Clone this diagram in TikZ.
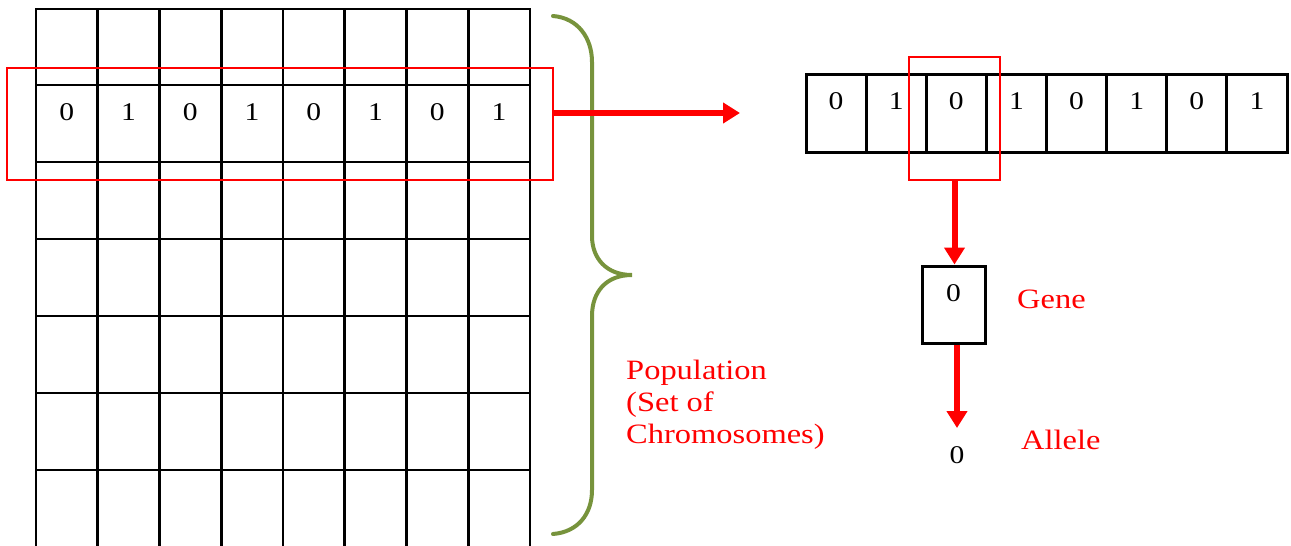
\documentclass[tikz,border=0pt]{standalone}
\usepackage{fontspec}
\setmainfont{Liberation Serif}[FakeStretch=1.16]
\usetikzlibrary{arrows.meta}
\definecolor{bracegreen}{RGB}{119,147,60}
\begin{document}
\begin{tikzpicture}[x=1pt,y=-1pt,
  gridline/.style={line width=2.9pt, line cap=rect},
  chrbox/.style={draw, line width=3pt, minimum width=60.125pt, minimum height=78pt, inner sep=0pt},
  digit/.style={font=\fontsize{25.5}{25}\selectfont, inner sep=0pt},
  redlabel/.style={text=red, font=\fontsize{28}{32}\selectfont, inner sep=0pt, anchor=west, align=left},
  selbox/.style={draw=red, line width=2pt, inner sep=0pt},
  bigarrow/.style={draw=red, line width=6pt, -{Triangle[length=17pt,width=20pt]}},
  bracestyle/.style={draw=bracegreen, line width=4pt, line cap=round}
]
\useasboundingbox (0,0) rectangle (1291,546);
% population grid
\foreach \i in {0,...,8} \draw[gridline] ({36+61.75*\i},9) -- ({36+61.75*\i},552);
\foreach \y in {9,85,162,239,316,393,470} \draw[gridline] (36,\y) -- (530,\y);
\foreach \d [count=\i] in {0,1,0,1,0,1,0,1}
  \node[digit] (p\i) at ({36+61.75*(\i-0.5)},112) {\d};
% selected chromosome in population
\node[selbox, minimum width=546pt, minimum height=112pt] (sel) at (280,124) {};
% brace
\draw[bracestyle] (553,16) .. controls (578,18) and (592,38) .. (592,62) -- (592,236)
  .. controls (592,258) and (606,275) .. (632,275)
  .. controls (606,275) and (592,292) .. (592,316) -- (592,490)
  .. controls (592,514) and (578,532) .. (553,534);
\node[redlabel] (poplabel) at (626,405) {Population\\(Set of\\Chromosomes)};
% arrow to chromosome
\coordinate (arrend) at (740,113);
\draw[bigarrow] ([yshift=11pt]sel.east) -- (arrend);
% chromosome
\foreach \d [count=\i] in {0,1,0,1,0,1,0,1}{
  \node[chrbox] (c\i) at ({806+60.125*(\i-0.5)},113) {};
  \node[digit] (cd\i) at ({806+60.125*(\i-0.5)},101) {\d};
}
\node[selbox, minimum width=91pt, minimum height=123pt] (gsel) at (954.5,118.5) {};
% gene
\node[chrbox, minimum width=63pt, minimum height=77pt] (gene) at (953.5,304.5) {};
\node[digit] (genedigit) at (953.5,293) {0};
\draw[bigarrow] (gsel.south) -- (gsel.south |- gene.north);
\node[redlabel] (genelabel) at (1017,299) {Gene};
% allele
\coordinate (alleletop) at (957,428);
\draw[bigarrow] (gene.south -| alleletop) -- (alleletop);
\node[digit] (alleledigit) at (957,455) {0};
\node[redlabel] (allelelabel) at (1021,440) {Allele};
\end{tikzpicture}
\end{document}
